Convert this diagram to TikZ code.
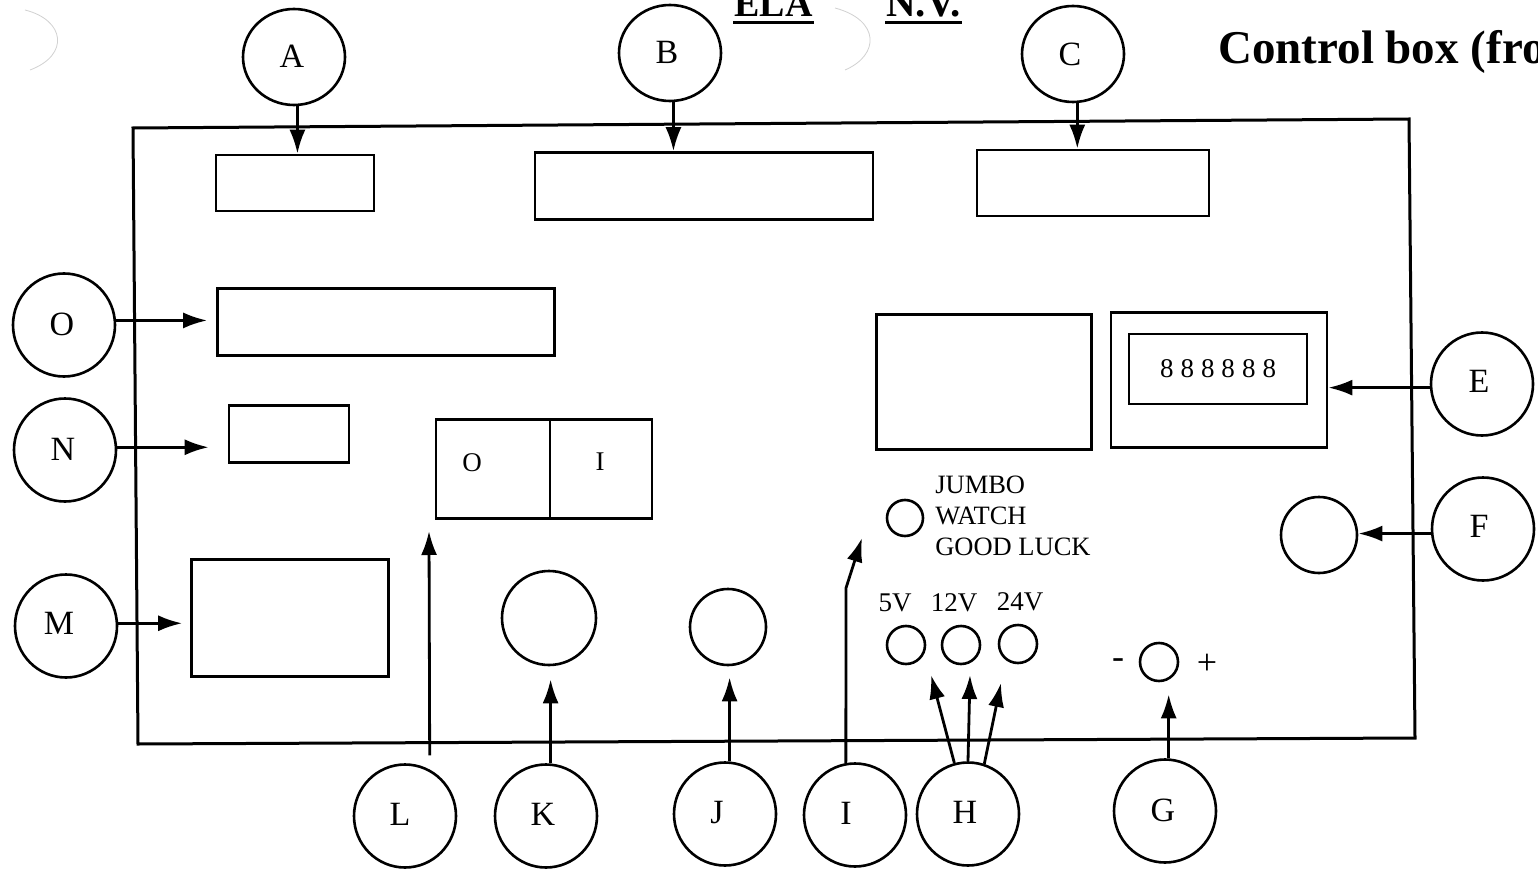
\documentclass[tikz,border=0pt]{standalone}
\usepackage{fontspec}
\setmainfont{Liberation Serif}
\usetikzlibrary{arrows.meta,shapes.geometric}
\begin{document}
\begin{tikzpicture}[x=1pt,y=-1pt,line width=2.6pt,
  callout/.style n args={3}{draw, ellipse, minimum width=102pt, minimum height=103pt, inner sep=0pt,
    label={[inner sep=0pt, xshift=#1pt, yshift=#2pt, font=\fontsize{34}{34}\selectfont]center:#3}},
  flat/.style={minimum height=96pt},
  panel/.style={draw, rectangle, inner sep=0pt},
  hole/.style={draw, circle, inner sep=0pt},
  small/.style={font=\fontsize{27}{27}\selectfont, inner sep=0pt},
  arr/.style={-{Latex[length=24pt,width=16pt]}, line width=2.8pt},
  faint/.style={line width=0.8pt, black!18}]
\clip (0,0) rectangle (1538,874);
\fill[white] (0,0) rectangle (1538,874);
\draw[faint] (25,10) .. controls (65,20) and (70,55) .. (30,70);
\draw[faint] (835,8) .. controls (880,20) and (880,55) .. (845,70);
\node (ela) [font=\fontsize{38}{38}\selectfont\bfseries, inner sep=0pt, anchor=base west] at (733,17) {ELA};
\node (nv) [font=\fontsize{41}{41}\selectfont\bfseries, inner sep=0pt, anchor=base west] at (885,17) {N.V.};
\node (title) [font=\fontsize{47}{47}\selectfont\bfseries, inner sep=0pt, anchor=base west] at (1217,64) {Control box (fro};
\draw[line width=3pt] ([yshift=-6pt]ela.base west) -- ([yshift=-6pt]ela.base east);
\draw[line width=3pt] ([yshift=-6pt]nv.base west) -- ([yshift=-6pt]nv.base east);
\coordinate (tl) at (133,128);
\coordinate (tr) at (1409,119);
\coordinate (br) at (1415,738);
\coordinate (bl) at (138,744);
\draw[line width=3pt] (tl) -- (tr) -- (br) -- (bl) -- cycle;
\node (boxA) [panel, minimum width=158pt, minimum height=56pt] at (295,183) {};
\node (boxB) [panel, minimum width=338pt, minimum height=67pt] at (704,186) {};
\node (boxC) [panel, minimum width=232pt, minimum height=66pt] at (1093,183) {};
\node (boxO) [panel, minimum width=337pt, minimum height=67pt] at (386,322) {};
\node (boxN) [panel, minimum width=120pt, minimum height=57pt] at (289,434) {};
\node (boxM) [panel, minimum width=197pt, minimum height=117pt] at (290,618) {};
\node (swOff) [panel, minimum width=114pt, minimum height=99pt] at (493,469) {};
\node (swOn) [panel, minimum width=102pt, minimum height=99pt] at (601,469) {};
\node (lblOff) [small] at (472,463) {O};
\node (lblOn) [small] at (600,462) {I};
\node (boxBig) [panel, minimum width=215pt, minimum height=135pt] at (984,382) {};
\node (boxE) [panel, minimum width=216pt, minimum height=135pt] at (1219,380) {};
\node (disp) [panel, minimum width=178pt, minimum height=70pt, font=\fontsize{27}{27}\selectfont] at (1218,369) {8\kern7pt 8\kern7pt 8\kern7pt 8\kern7pt 8\kern7pt 8};
\node (holeF) [hole, minimum size=76pt] at (1319,535) {};
\node (holeK) [hole, minimum size=94pt] at (549,618) {};
\node (holeJ) [hole, minimum size=76pt] at (728,627) {};
\node (ledI) [hole, minimum size=36pt] at (905,518) {};
\node (led5) [hole, minimum size=38pt] at (906,645) {};
\node (led12) [hole, minimum size=38pt] at (961,645) {};
\node (led24) [hole, minimum size=38pt] at (1018,644) {};
\node (holeG) [hole, minimum size=38pt] at (1159,662) {};
\node (txtI) [inner sep=0pt, anchor=west, align=left, font=\fontsize{26.5}{31}\selectfont] at (934,516) {JUMBO\\WATCH\\GOOD LUCK};
\node (txt5) [small] at (895,603) {5V};
\node (txt12) [small] at (954,603) {12V};
\node (txt24) [small] at (1020,602) {24V};
\node (minus) [small, font=\fontsize{36}{36}\selectfont] at (1118,664) {-};
\node (plus) [small, font=\fontsize{36}{36}\selectfont] at (1207,664) {+};
\node (A) [callout={-2}{1}{A}, flat] at (294,57) {};
\node (B) [callout={-3}{1}{B}, flat] at (670,53) {};
\node (C) [callout={-3}{0}{C}, flat] at (1073,54) {};
\node (O) [callout={-2}{1}{O}] at (64,325) {};
\node (N) [callout={-2}{1}{N}] at (65,450) {};
\node (M) [callout={-7}{3}{M}] at (66,626) {};
\node (E) [callout={-3}{3}{E}] at (1482,384) {};
\node (F) [callout={-4}{3}{F}] at (1483,529) {};
\node (L) [callout={-5}{2}{L}] at (405,816) {};
\node (K) [callout={-3}{2}{K}] at (546,816) {};
\node (J) [callout={-8}{1}{J}] at (725,814) {};
\node (I) [callout={-9}{2}{I}] at (855,815) {};
\node (H) [callout={-3}{2}{H}] at (968,814) {};
\node (G) [callout={-2}{1}{G}] at (1165,811) {};
\coordinate (tipL) at (429,531);
\coordinate (bendI) at (846,588);
\coordinate (tipI) at (862,538);
\coordinate (tipH5) at (931,675);
\coordinate (tipH12) at (970,675);
\coordinate (tipH24) at (1001,683);
\draw[arr] (A.-86) -- (A.-86 |- boxA.north);
\draw[arr] (B.-86) -- (B.-86 |- boxB.north);
\draw[arr] (C.-85) -- (C.-85 |- boxC.north);
\draw[arr, shorten >=9pt] (O.5) -- (O.5 -| boxO.west);
\draw[arr, shorten >=19pt] (N.3) -- (N.3 -| boxN.west);
\draw[arr, shorten >=8pt] (M.3) -- (M.3 -| boxM.west);
\draw[arr] (E.184) -- (E.184 -| boxE.east);
\draw[arr] (F.185) -- (F.185 -| holeF.east);
\draw[arr, shorten <=14pt] (L.62) -- (tipL);
\draw[arr, shorten >=13pt] (K.85) -- (K.85 |- holeK.south);
\draw[arr, shorten >=11pt] (J.85) -- (J.85 |- holeJ.south);
\draw[arr] (I.100) -- (bendI) -- (tipI);
\draw[arr] (H.105) -- (tipH5);
\draw[arr] (H.90) -- (tipH12);
\draw[arr] (H.72) -- (tipH24);
\draw[arr, shorten >=12pt] (G.86) -- (G.86 |- holeG.south);
\end{tikzpicture}
\end{document}
